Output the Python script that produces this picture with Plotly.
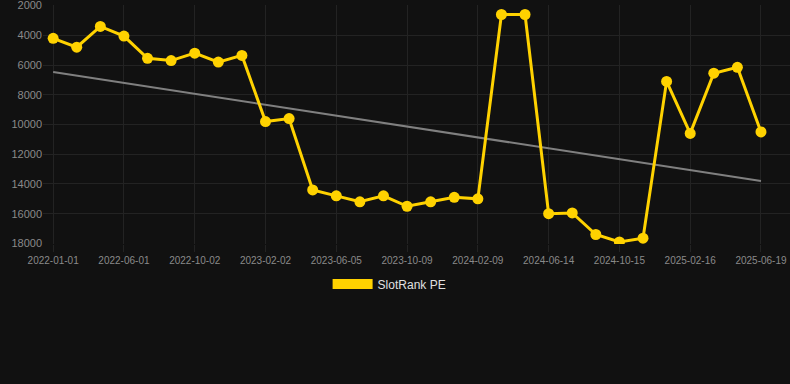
import numpy as np
import plotly.graph_objects as go

dates = ["2022-01-01", "2022-02-20", "2022-04-11", "2022-06-01", "2022-07-12", "2022-08-22",
         "2022-10-02", "2022-11-12", "2022-12-23", "2023-02-02", "2023-03-15", "2023-04-25",
         "2023-06-05", "2023-07-17", "2023-08-28", "2023-10-09", "2023-11-19", "2023-12-30",
         "2024-02-09", "2024-03-21", "2024-05-03", "2024-06-14", "2024-07-25", "2024-09-04",
         "2024-10-15", "2024-11-25", "2025-01-06", "2025-02-16", "2025-03-29", "2025-05-09",
         "2025-06-19"]
rank = [4200, 4800, 3400, 4050, 5550, 5700, 5200, 5800, 5350, 9800, 9600, 14400,
        14800, 15200, 14800, 15500, 15200, 14900, 15000, 2600, 2600, 16000, 15950, 17400,
        17900, 17650, 7100, 10600, 6550, 6150, 10500]
tick_labels = ["2022-01-01", "2022-06-01", "2022-10-02", "2023-02-02", "2023-06-05", "2023-10-09",
               "2024-02-09", "2024-06-14", "2024-10-15", "2025-02-16", "2025-06-19"]
y_ticks = [2000, 4000, 6000, 8000, 10000, 12000, 14000, 16000, 18000]

idx = np.arange(len(rank))
slope, intercept = np.polyfit(idx, rank, 1)
trend = slope * idx + intercept

GOLD = "#FFD200"
GRID = "#232323"

fig = go.Figure()
fig.add_trace(go.Scatter(x=dates, y=trend, mode="lines", line=dict(color="#808080", width=2),
                         showlegend=False, hoverinfo="skip"))
fig.add_trace(go.Scatter(x=dates, y=rank, mode="lines+markers", name="SlotRank PE",
                         line=dict(color=GOLD, width=3), showlegend=False,
                         marker=dict(color=GOLD, size=11)))
# legend entry drawn as a filled swatch
fig.add_trace(go.Scatter(x=[None], y=[None], mode="lines", name="SlotRank PE",
                         line=dict(color=GOLD, width=12), showlegend=True))

fig.update_layout(
    width=790, height=384,
    paper_bgcolor="#111111", plot_bgcolor="#111111",
    margin=dict(l=43, r=0, t=5, b=140),
    font=dict(family="Arial, Liberation Sans, sans-serif", color="#8a8a8a"),
    showlegend=True,
    legend=dict(orientation="h", x=0.464, xanchor="center", y=-0.167, yanchor="middle",
                font=dict(size=12, color="#e0e0e0"), itemwidth=40),
    xaxis=dict(type="category", categoryorder="array", categoryarray=dates,
               tickmode="array", tickvals=tick_labels, ticktext=tick_labels,
               range=[-0.43, 31.23], showgrid=True, gridcolor=GRID, gridwidth=1,
               ticks="outside", ticklen=7, tickcolor=GRID,
               zeroline=False, showline=False, tickfont=dict(size=10, color="#8a8a8a")),
    yaxis=dict(range=[18040, 1960], tickmode="array", tickvals=y_ticks,
               ticktext=[str(v) for v in y_ticks], ticklabeloverflow="allow",
               showgrid=True, gridcolor=GRID, gridwidth=1, zeroline=False,
               showline=False, tickfont=dict(size=11, color="#8a8a8a")),
)

fig.write_html("out.html", config={"displayModeBar": False},
               post_script="document.body.style.margin='0';")
